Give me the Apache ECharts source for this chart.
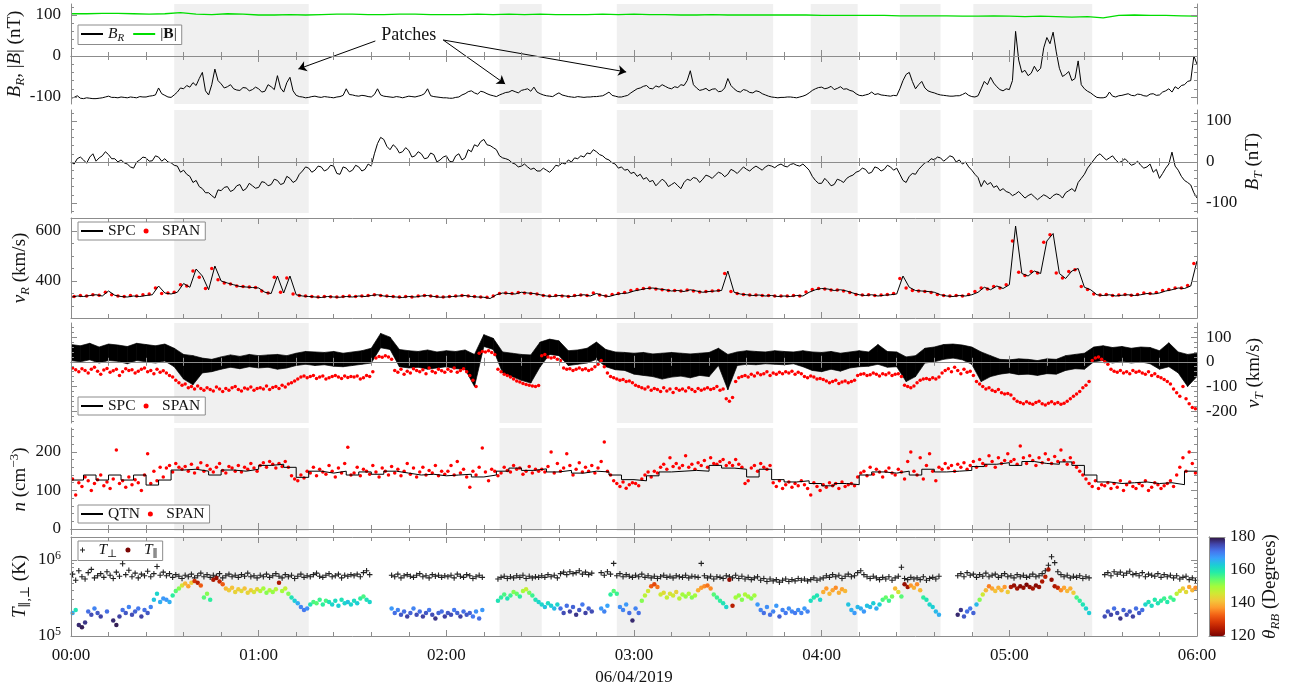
<!DOCTYPE html>
<html>
<head>
<meta charset="utf-8">
<script src="https://cdn.jsdelivr.net/npm/echarts@6/dist/echarts.min.js"></script>
<style>
  html, body { margin: 0; padding: 0; background: #fff; }
  #chart { width: 1290px; height: 691px; }
</style>
</head>
<body>
<div id="chart"></div>
<script>
// Solar-wind interval 06/04/2019, 00:00-06:00. Time is in minutes after 00:00.
const hourTicks = ['00:00', '01:00', '02:00', '03:00', '04:00', '05:00', '06:00'];
const dateLabel = '06/04/2019';
// shaded "patch" intervals [start, end] in minutes
const patches = [[33, 76], [137, 150.5], [174.5, 224.5], [236.5, 251.5], [265, 278], [288.5, 326.5]];

// B_R (nT), one value per minute from 00:00
const bRStep = 1;
const bR = [
  -103,-101,-97,-103,-104,-102,-103,-104,-104,-103,-102,-100,-98,-101,-101,-102,-100,-101,-102,-100,-101,-102,-99,-100,-100,-98,-97,-95,-78,-92,
  -96,-100,-101,-95,-88,-78,-80,-72,-76,-65,-72,-55,-40,-85,-95,-70,-32,-60,-68,-78,-75,-70,-80,-83,-84,-77,-78,-85,-82,-76,
  -80,-88,-86,-70,-75,-82,-48,-78,-88,-65,-52,-85,-96,-99,-100,-102,-101,-99,-98,-100,-101,-99,-100,-101,-102,-100,-99,-96,-80,-94,
  -95,-97,-98,-96,-97,-99,-100,-94,-80,-95,-98,-99,-100,-101,-99,-100,-102,-100,-98,-99,-100,-98,-96,-92,-80,-97,-99,-100,-101,-102,
  -102,-103,-103,-101,-100,-95,-92,-87,-85,-90,-93,-86,-88,-92,-95,-97,-99,-95,-92,-89,-88,-84,-87,-90,-84,-82,-80,-86,-76,-88,
  -92,-95,-97,-98,-99,-94,-90,-95,-97,-99,-100,-101,-99,-100,-101,-100,-100,-99,-99,-98,-97,-93,-88,-96,-98,-100,-100,-98,-96,-90,
  -85,-80,-78,-74,-72,-79,-80,-73,-76,-70,-74,-78,-80,-75,-77,-70,-72,-60,-36,-70,-78,-84,-82,-79,-85,-81,-80,-87,-86,-78,
  -55,-72,-80,-86,-88,-82,-84,-89,-90,-85,-87,-92,-95,-98,-100,-101,-102,-101,-101,-100,-100,-101,-102,-100,-98,-95,-90,-84,-80,-77,
  -76,-80,-78,-74,-82,-79,-75,-81,-80,-84,-86,-92,-96,-97,-95,-93,-88,-94,-92,-95,-96,-97,-98,-96,-97,-80,-60,-45,-40,-62,
  -80,-70,-62,-78,-85,-88,-90,-93,-95,-96,-97,-98,-98,-97,-97,-94,-90,-96,-99,-100,-97,-80,-62,-70,-52,-66,-75,-82,-85,-80,
  -82,-60,60,-10,-40,-35,-48,-42,-25,-38,-30,20,45,30,58,10,-30,-50,-45,-38,-60,-55,-12,-70,-80,-86,-90,-96,-101,-102,
  -102,-100,-88,-98,-100,-97,-96,-94,-92,-96,-97,-93,-94,-97,-98,-93,-92,-96,-95,-88,-85,-80,-88,-75,-80,-72,-70,-62,-60,0,
  -20
];
// |B| (nT), every 5 min
const bMagStep = 5;
const bMag = [
  103,103,104,104,103,102,103,106,102,101,103,102,100,100,101,100,101,102,102,101,
  101,102,102,101,101,101,102,101,102,101,102,101,101,101,102,101,102,101,101,100,
  100,101,100,100,100,100,100,100,99,99,99,99,99,98,98,98,98,97,97,98,
  97,96,97,96,95,96,93,99,100,99,99,98,97
];
// B_T (nT), one value per minute
const bTStep = 1;
const bT = [
  0,-5,8,12,5,-3,12,20,2,10,15,25,18,8,8,0,5,-2,-5,-12,-15,0,5,12,10,2,3,15,12,2,
  8,0,-2,-8,-10,-25,-20,-30,-35,-50,-45,-60,-65,-75,-75,-82,-88,-68,-70,-62,-60,-72,-68,-58,-55,-70,-65,-52,-58,-64,
  -62,-48,-50,-58,-55,-42,-45,-55,-52,-35,-40,-50,-45,-30,-22,-12,-15,-25,-20,-10,-12,-22,-18,-8,-10,-28,-30,-12,-15,-24,
  -20,-8,-12,-22,-18,-5,-10,20,45,60,55,38,30,42,35,22,25,35,28,12,15,25,20,8,10,22,18,0,5,12,
  15,2,0,15,20,5,10,30,25,42,38,50,55,42,40,35,30,15,10,8,5,-2,-5,-12,-10,-5,-12,-18,-15,-22,
  -22,-15,-20,-25,-18,-8,-10,-2,-5,5,0,10,8,15,12,22,20,30,25,18,15,8,5,-2,-5,-15,-12,-20,-18,-28,
  -25,-35,-30,-42,-38,-48,-45,-58,-50,-42,-48,-60,-55,-50,-58,-65,-50,-42,-45,-38,-40,-50,-42,-32,-35,-40,-32,-25,-28,-36,
  -30,-18,-22,-28,-20,-12,-18,-22,-15,-10,-15,-20,-12,-8,-10,-14,-8,-5,-10,-12,-6,-4,-8,-10,-5,-12,-20,-35,-45,-52,
  -52,-40,-48,-58,-55,-42,-45,-50,-40,-35,-32,-25,-22,-15,-18,-28,-25,-12,-15,-22,-18,-8,-12,-20,-15,-30,-45,-50,-35,-28,
  -30,-18,-10,-2,0,8,5,12,10,2,8,15,12,0,5,-5,0,-12,-20,-30,-38,-60,-45,-55,-50,-62,-58,-70,-65,-72,
  -75,-82,-78,-72,-80,-88,-82,-78,-85,-92,-86,-80,-84,-90,-82,-78,-80,-88,-75,-70,-65,-72,-50,-40,-30,-15,-5,5,15,20,
  12,5,10,15,5,-2,2,8,0,-8,-5,2,-8,-15,-12,-5,-25,-18,-40,-28,-15,-5,24,-10,-20,-35,-45,-50,-56,-75,
  -88
];
// v_R SPC (km/s), every 2 min
const vRStep = 2;
const vRspc = [
  335,340,338,342,345,340,360,343,338,336,340,338,342,345,380,
  352,348,355,390,375,448,420,365,460,400,392,385,378,376,374,
  372,355,350,420,352,420,345,340,338,336,334,338,336,335,338,
  336,340,338,342,345,340,338,336,334,338,336,340,342,338,335,
  336,338,340,342,338,336,335,330,345,352,350,348,355,352,350,
  345,340,338,342,340,338,342,345,340,350,342,338,345,350,352,
  360,365,370,372,368,365,360,362,358,365,360,355,358,360,362,
  440,355,348,345,342,344,340,342,338,340,338,342,340,355,365,
  370,368,362,365,360,352,345,342,345,340,343,345,348,420,375,
  362,360,358,355,345,340,338,342,340,345,355,375,365,380,370,
  385,620,430,420,440,430,560,590,430,410,440,450,375,365,345,
  342,345,340,343,345,342,345,350,348,352,360,365,372,370,380,
  480
];
// v_R SPAN (km/s), at odd minutes 1, 3, ... 359
const vRspan = [
  338,342,340,345,343,355,345,340,338,342,340,345,348,372,350,
  352,355,385,380,440,415,370,450,405,392,388,380,378,376,374,
  360,352,415,355,412,348,342,340,338,336,338,337,336,338,340,
  338,340,342,345,342,340,338,336,338,336,340,342,340,338,336,
  338,340,342,340,338,336,335,340,350,352,350,354,352,350,348,
  342,340,342,340,338,342,344,342,352,344,340,346,350,354,362,
  366,370,372,368,365,362,362,360,364,360,356,358,360,362,430,
  358,350,346,344,344,342,342,340,340,340,342,340,356,366,370,
  368,364,364,360,354,346,344,345,342,344,346,350,410,372,362,
  360,358,354,346,342,340,342,340,346,358,372,368,378,372,385,
  560,435,422,438,432,555,585,432,412,438,445,378,366,348,344,
  346,342,344,346,343,346,352,350,354,362,366,372,372,382,470
];
// v_T SPC (km/s): lower and upper envelope, every 3 min
const vTStep = 3;
const vTspcLow = [
  5,0,8,-5,5,2,-8,5,0,-5,
  3,-20,-70,-93,-45,-40,-30,-22,-28,-20,
  -25,-22,-30,-25,-15,-10,-15,-12,-18,-20,
  -15,-10,-5,57,50,-20,-25,-22,-30,-25,
  -20,-28,-30,-100,62,50,-45,-60,-75,-86,
  -20,30,25,-15,-10,-5,10,-20,-32,-35,
  -50,-55,-60,-70,-62,-58,-65,-55,-60,-15,
  -113,-15,-10,-12,-8,-10,-12,-8,-20,-35,
  -40,-30,-38,-25,-20,-18,-10,-22,-20,-80,
  -60,-5,0,10,15,8,-10,-80,-60,-50,
  -45,-52,-50,-55,-48,-50,-35,-28,-30,0,
  5,-5,2,-5,0,-8,-30,-20,-45,-100,
  -60
];
const vTspcHigh = [
  70,65,75,60,72,68,62,75,70,65,
  72,55,30,25,15,10,20,28,22,30,
  25,28,30,25,35,42,40,38,42,35,
  40,45,55,115,100,50,45,42,48,40,
  45,42,48,30,110,95,40,35,30,28,
  80,92,85,45,48,55,80,50,40,38,
  35,38,32,35,38,35,32,35,38,55,
  30,40,45,42,40,45,42,40,45,40,
  38,42,35,40,45,40,70,42,40,20,
  25,55,60,70,72,68,60,40,25,10,
  8,12,10,5,12,10,25,30,35,60,
  65,58,62,55,60,58,45,77,40,30,
  35
];
// v_T SPAN (km/s), one per minute (centred on the half minute)
const vTspan = [
  -25,-32,-40,-28,-35,-45,-30,-22,-38,-50,-33,-27,-42,-36,-30,-55,-40,-28,-35,-32,-45,-38,-30,-25,-40,-35,-48,-30,-42,-36,
  -45,-55,-62,-75,-85,-95,-90,-105,-100,-110,-98,-108,-115,-105,-112,-118,-102,-110,-120,-108,-115,-105,-100,-112,-118,-106,-110,-102,-115,-108,
  -105,-110,-98,-112,-104,-100,-108,-95,-102,-90,-85,-78,-70,-62,-58,-65,-60,-55,-68,-62,-58,-70,-65,-60,-55,-62,-68,-58,-64,-60,
  -62,-58,-70,-65,-55,-60,-40,15,22,18,25,20,10,-35,-42,-30,-50,-38,-45,-28,-35,-40,-32,-48,-25,-38,-44,-30,-36,-42,
  -30,-38,-25,-42,-35,-28,-40,-55,-75,-100,35,42,40,45,38,30,-30,-40,-50,-55,-62,-70,-78,-82,-88,-92,-95,-98,-100,-96,
  25,30,20,15,18,10,5,-25,-30,-28,-35,-30,-25,-32,-28,-35,-30,-20,-10,5,-20,-45,-60,-65,-70,-75,-72,-80,-78,-85,
  -95,-100,-105,-110,-102,-115,-108,-112,-120,-105,-118,-110,-124,-108,-115,-110,-118,-105,-112,-120,-108,-115,-110,-105,-112,-108,-100,-115,-110,-150,
  -160,-145,-80,-65,-60,-55,-62,-50,-58,-45,-52,-48,-40,-55,-45,-50,-42,-48,-40,-45,-38,-50,-42,-48,-60,-65,-58,-62,-70,-68,
  -72,-78,-85,-80,-75,-88,-82,-78,-85,-80,-75,-55,-50,-48,-55,-52,-45,-50,-58,-48,-52,-45,-55,-50,-48,-60,-95,-100,-105,-98,
  -85,-75,-70,-68,-72,-65,-70,-62,-45,-35,-28,-40,-22,-35,-48,-30,-42,-38,-55,-80,-90,-100,-110,-105,-115,-120,-112,-125,-130,-128,
  -135,-150,-160,-165,-170,-162,-168,-172,-165,-160,-170,-175,-168,-162,-170,-165,-172,-168,-160,-150,-140,-130,-120,-105,-95,-80,5,15,20,10,
  0,-10,-30,-38,-42,-35,-45,-40,-48,-35,-42,-38,-45,-50,-40,-55,-48,-60,-65,-72,-80,-90,-110,-125,-140,-100,-150,-170,-185,-190
];
// n QTN (cm^-3), held values every 4 min
const nStep = 4;
const nQtn = [
  127,140,127,140,127,140,114,127,153,155,150,140,153,150,155,165,168,160,134,150,
  145,150,140,148,142,150,145,140,142,138,140,142,135,140,150,158,152,156,148,152,
  145,150,148,140,128,125,138,148,150,152,150,165,158,155,135,155,128,122,125,118,
  112,118,115,140,148,145,150,140,155,148,150,152,162,168,172,165,175,170,168,174,
  165,140,122,118,120,122,118,120,115,150,150
];
// n SPAN (cm^-3), one per minute
const nSpan = [
  130,88,120,110,135,125,100,118,128,140,112,122,105,130,205,118,125,108,135,115,128,120,100,140,195,118,150,125,160,135,
  158,165,148,170,160,155,162,150,168,145,158,172,150,165,155,148,160,170,152,145,162,158,150,165,148,160,155,170,158,150,
  165,172,160,175,168,158,170,162,175,160,138,130,125,140,132,150,145,160,138,155,148,142,165,150,135,158,145,170,212,140,
  145,160,138,155,150,142,165,148,135,158,150,140,162,145,155,138,150,170,142,158,135,148,160,140,152,145,165,138,150,142,
  150,165,140,175,145,155,135,108,150,140,160,210,148,125,155,150,138,145,160,152,148,165,155,158,142,150,162,145,155,150,
  155,148,162,200,145,170,150,158,195,165,140,155,172,148,160,150,165,145,158,175,226,150,140,125,118,110,122,106,115,120,
  118,112,130,140,148,135,150,145,160,168,155,185,162,170,158,165,190,160,168,155,172,165,178,160,185,170,168,175,180,165,
  172,165,180,168,160,118,125,158,165,150,170,160,155,165,120,110,125,105,115,122,108,118,112,125,115,105,88,120,110,100,
  115,108,120,112,118,105,122,110,115,118,112,135,145,150,138,160,142,155,148,135,150,158,145,140,155,148,130,175,200,150,
  140,185,130,165,195,150,125,160,155,170,158,165,150,168,160,172,155,165,175,160,180,170,165,190,175,160,185,170,178,195,
  175,180,168,215,185,170,190,178,165,185,172,195,180,170,188,175,205,178,168,185,172,160,150,140,130,118,110,125,105,115,
  112,120,105,118,108,125,100,115,122,110,105,118,112,125,100,108,120,115,105,112,118,125,110,140,160,185,150,200,170,145
];
// T_perp and T_par (units of 1e5 K) and theta_RB (degrees), one per minute; null = no data
const tPerp = [
  6.5,5.4,7.2,6.0,5.6,6.8,7.5,5.8,6.2,6.6,5.9,7.0,6.3,5.7,6.9,6.1,8.9,6.4,7.3,6.0,6.7,5.8,6.5,6.2,7.1,6.0,6.6,8.2,6.3,6.9,
  6.2,6.6,5.9,6.4,6.1,5.7,6.3,6.0,6.5,5.8,6.2,6.7,6.0,6.4,5.9,6.3,6.1,6.6,5.8,6.2,6.5,6.0,6.3,5.9,6.4,6.1,6.7,6.0,6.2,5.8,
  6.3,6.0,6.5,5.9,6.2,6.6,6.1,5.8,6.4,6.0,6.3,5.7,6.1,6.5,5.9,6.2,6.0,6.4,6.7,6.1,5.9,6.3,6.6,6.0,6.2,6.5,5.8,6.3,6.1,6.4,
  6.2,6.5,6.0,6.8,7.2,6.4,null,null,null,null,null,null,6.3,6.0,6.5,5.8,6.2,6.4,6.1,5.9,6.3,6.6,6.0,6.2,5.8,6.4,6.1,6.3,5.9,6.2,
  6.0,6.3,5.8,6.5,6.1,5.9,6.4,6.2,5.7,6.0,6.3,5.9,null,null,null,null,5.6,5.9,6.1,5.7,6.0,5.8,6.2,5.9,6.3,5.7,6.1,5.8,6.0,5.9,
  6.2,5.9,6.4,6.0,6.3,5.8,6.6,6.9,6.4,7.0,6.6,6.8,7.2,6.5,6.9,6.4,6.7,null,null,6.8,6.3,7.0,6.5,9.0,6.2,6.6,6.0,6.4,6.1,5.9,
  6.3,6.0,6.5,5.9,6.2,5.8,6.1,5.7,6.0,6.3,5.9,6.1,5.8,6.2,6.0,5.9,6.3,5.8,6.1,6.0,5.9,9.0,6.2,5.8,6.1,5.6,6.0,5.9,5.7,6.2,
  6.0,5.8,6.3,5.7,6.1,5.6,5.9,5.5,5.8,6.0,5.4,5.7,5.2,5.6,5.3,5.5,5.1,5.4,5.6,5.2,5.5,5.3,5.7,5.4,5.6,5.3,5.5,5.8,5.4,5.6,
  5.8,6.2,5.9,6.4,6.0,6.3,5.7,6.1,6.5,6.0,6.2,6.8,7.2,6.4,6.0,5.7,6.1,5.8,5.5,5.9,5.6,6.0,5.4,5.8,6.1,8.0,5.7,5.5,5.9,5.6,
  5.8,5.5,6.0,5.4,5.7,5.9,5.6,6.1,null,null,null,null,null,6.2,6.6,6.0,6.8,6.3,6.5,5.9,6.4,6.1,6.7,6.0,6.3,6.5,5.9,6.2,6.6,6.0,
  6.2,5.8,6.4,6.0,6.3,5.9,6.1,6.5,6.0,6.2,6.6,7.2,8.5,11.0,9.2,7.0,6.4,6.0,6.3,5.8,6.1,5.9,6.2,5.7,6.0,5.8,null,null,null,null,
  6.4,6.8,6.2,7.0,6.5,6.9,6.3,6.7,7.1,6.4,6.6,6.2,6.8,6.0,6.5,6.3,6.1,6.6,5.9,6.4,6.0,6.3,5.8,6.2,5.6,5.9,6.1,5.5,5.8,5.4
];
const tPar = [
  2.0,2.2,1.4,1.3,1.5,2.1,1.9,2.3,2.0,1.8,null,2.1,null,1.6,1.4,1.8,2.2,2.0,2.4,1.9,2.1,2.3,1.8,2.2,2.0,2.4,3.0,3.6,2.8,3.1,
  3.0,2.8,3.4,3.9,4.2,4.6,4.9,4.5,5.0,5.3,5.0,4.6,3.2,3.6,3.0,5.5,5.8,5.2,4.8,4.2,4.0,4.3,3.8,4.1,3.9,4.2,3.7,4.0,3.8,4.1,
  3.9,4.2,3.7,4.0,3.8,4.1,5.0,3.9,4.2,3.6,3.2,2.9,2.7,2.4,2.2,2.3,2.6,2.8,2.7,3.0,2.6,2.9,2.8,2.6,2.9,2.5,3.0,2.7,2.8,2.6,
  2.9,2.7,3.1,3.3,3.0,2.8,null,null,null,null,null,null,2.3,2.0,2.2,1.9,2.1,1.8,2.0,2.3,1.9,2.1,1.8,2.0,2.2,1.9,1.7,2.0,2.1,1.8,
  2.0,1.9,2.2,2.0,1.8,2.1,1.9,2.0,1.8,2.1,1.7,2.2,null,null,null,null,2.9,3.2,3.5,3.1,3.4,3.8,3.6,3.3,3.9,4.1,3.7,3.4,3.0,2.8,
  2.6,2.4,2.7,2.5,2.3,2.6,2.3,2.0,2.5,2.1,2.4,1.9,2.2,2.6,2.0,2.3,2.1,null,null,2.3,2.1,2.5,3.5,3.9,3.6,2.4,2.2,2.6,2.0,1.6,
  2.3,2.0,2.9,3.4,3.9,4.5,4.8,4.4,3.5,3.7,3.2,3.6,3.4,3.8,3.1,3.5,3.3,3.6,3.2,3.4,4.0,4.3,4.5,4.6,4.2,3.5,3.2,2.9,2.7,2.4,
  5.5,2.5,3.2,3.4,3.0,3.5,3.3,3.1,3.4,2.6,2.2,2.0,2.4,1.9,2.1,2.5,1.8,2.2,2.0,2.3,2.1,2.0,2.2,2.0,2.3,2.1,2.9,3.2,3.4,3.0,
  3.8,4.2,3.6,4.0,4.3,3.7,4.1,3.9,2.6,2.2,2.0,2.4,2.3,2.1,2.5,2.4,2.7,2.3,2.6,3.0,3.2,2.9,3.3,4.2,3.8,3.3,4.8,4.4,4.6,4.3,
  4.8,4.0,3.2,3.0,2.6,2.4,2.1,1.9,null,null,null,null,null,1.9,2.2,1.8,2.1,2.3,2.0,2.6,3.0,3.5,4.0,4.5,4.2,3.9,4.3,4.0,4.4,3.8,
  4.4,4.6,4.2,4.5,4.3,4.7,4.4,4.2,4.6,4.4,5.2,6.0,7.5,5.5,4.5,4.3,4.0,4.3,3.9,4.2,3.7,3.2,2.9,2.6,2.3,2.0,null,null,null,null,
  1.8,2.1,1.9,2.3,2.0,1.7,2.2,1.9,2.1,1.8,2.3,2.0,2.2,2.6,2.8,2.5,3.0,2.7,2.9,3.1,2.8,3.2,3.0,3.6,3.9,4.2,3.8,4.4,4.0,4.3
];
const thetaRB = [
  166,160,178,179,177,172,175,170,174,176,null,172,null,178,179,176,172,174,170,175,173,171,176,172,174,170,164,162,166,168,
  168,166,158,155,152,145,140,138,142,128,125,132,155,152,158,124,122,126,132,140,142,141,143,142,144,141,143,142,145,143,
  148,150,152,149,151,148,124,150,147,152,160,163,166,170,171,169,160,156,155,157,158,156,160,162,161,163,160,162,164,162,
  161,163,158,156,160,162,null,null,null,null,null,null,168,172,170,174,172,176,173,170,175,172,176,174,171,175,177,173,172,176,
  174,175,171,173,176,172,174,173,171,169,172,168,null,null,null,null,160,158,156,160,157,152,154,158,150,147,153,157,160,162,
  162,164,161,163,165,162,172,175,172,176,173,177,174,171,176,173,175,null,null,168,170,167,158,155,157,169,170,168,172,178,
  170,172,152,148,146,132,130,134,146,144,147,145,146,143,148,150,151,149,152,150,139,137,136,134,136,155,157,158,160,162,
  122,125,150,151,152,149,150,152,150,168,170,172,169,172,170,168,173,170,171,169,170,171,169,170,168,170,161,159,160,162,
  139,137,140,138,136,139,138,140,164,166,168,165,166,168,164,165,163,166,163,156,154,157,153,140,145,155,122,123,137,139,
  136,140,158,160,162,163,165,166,null,null,null,null,null,178,177,174,172,171,173,165,152,146,140,135,138,141,139,140,137,142,
  124,122,123,121,122,120,122,123,121,122,124,125,123,122,124,126,136,138,140,139,142,156,158,160,162,163,null,null,null,null,
  175,174,176,172,175,177,173,175,174,176,172,174,172,162,160,161,159,160,158,157,159,156,157,148,145,142,144,138,140,136
];
const thetaRange = [120, 180];
const thetaTicks = [120, 140, 160, 180];

// "Patches" annotation: text anchor and arrows, in (minutes, nT)
const patchLabelAt = [108, 51];
const patchArrows = [
  [[97.3, 36.6], [72.7, -31.7]],
  [[119.0, 39], [138.8, -68.3]],
  [[119.0, 39], [177.5, -39]]
];

// ---------- styling ----------
const FONT = '"Liberation Serif", "DejaVu Serif", serif';
const AX = '#8c8c8c';
const TXT = '#141414';
const SHADE = '#f0f0f0';
const turbo = ['#7a0402', '#b11901', '#d93806', '#f36315', '#fe9b2d', '#f3c63a', '#d1e834',
  '#a4fc3b', '#61fc6c', '#24eca6', '#1bcfd4', '#39a2fc', '#4675ed', '#4145ab', '#30123b'];

function rich(size) {
  const lh = Math.round(size * 1.25);
  const s = Math.round(size * 0.7);
  const base = { fontFamily: FONT, fontSize: size, color: TXT, lineHeight: lh };
  const small = { fontFamily: FONT, fontSize: s, color: TXT, lineHeight: s };
  return {
    n: base,
    i: Object.assign({}, base, { fontStyle: 'italic' }),
    b: Object.assign({}, base, { fontWeight: 'bold' }),
    s: Object.assign({}, small, { verticalAlign: 'bottom' }),
    si: Object.assign({}, small, { verticalAlign: 'bottom', fontStyle: 'italic' }),
    p: Object.assign({}, small, { verticalAlign: 'top' })
  };
}

// panel frames: pixel top/bottom and the value range that fits them
const layout = [
  { top: 4,   bottom: 104, min: -117.1, max: 126.8, major: [-100, 0, 100], minorStep: 20, side: 'left',  gap: 44,
    name: '{i|B}{si|R}{n|, |}{i|B}{n|| (nT)}' },
  { top: 110, bottom: 213, min: -124.4, max: 126.8, major: [-100, 0, 100], minorStep: 20, side: 'right', gap: 44,
    name: '{i|B}{si|T}{n| (nT)}' },
  { top: 218, bottom: 318, min: 252, max: 652, major: [400, 600], minorStep: 50, side: 'left', gap: 39,
    name: '{i|v}{si|R}{n| (km/s)}' },
  { top: 323, bottom: 423, min: -248, max: 157.3, major: [-200, -100, 0, 100], minorStep: 20, side: 'right', gap: 45,
    name: '{i|v}{si|T}{n| (km/s)}' },
  { top: 428, bottom: 531, min: -5.2, max: 262, major: [0, 100, 200], minorStep: 20, side: 'left', gap: 39,
    name: '{i|n}{n| (cm}{p|−3}{n|)}' },
  { top: 537, bottom: 636, log: true, min: 1e5, max: 2e6, major: [1e5, 1e6],
    minorVals: [2e5, 3e5, 4e5, 5e5, 6e5, 7e5, 8e5, 9e5, 2e6], side: 'left', gap: 39,
    name: '{i|T}{s|∥,⊥}{n| (K)}' }
];

function stepValues(min, max, step) {
  const out = [];
  for (let v = Math.ceil(min / step) * step; v <= max + 1e-9; v += step) out.push(Math.round(v * 1000) / 1000);
  return out;
}

const grids = layout.map(p => ({ left: 71, right: 93, top: p.top, height: p.bottom - p.top, outerBoundsMode: 'none' }));
grids.push({ left: 1209, top: 537, width: 16, height: 99, outerBoundsMode: 'none' });

const lineStyleAx = { color: AX, width: 1 };
const xAxes = [];
const yAxes = [];
layout.forEach((p, g) => {
  ['bottom', 'top'].forEach(pos => {
    const labelled = (g === layout.length - 1 && pos === 'bottom');
    const ax = {
      gridIndex: g, type: 'value', position: pos, min: 0, max: 360, interval: 60, z: 5,
      axisLine: { show: true, lineStyle: lineStyleAx },
      axisTick: { show: true, inside: true, length: 6, lineStyle: lineStyleAx },
      minorTick: { show: true, splitNumber: 5, length: 4, lineStyle: lineStyleAx },
      splitLine: { show: false }, minorSplitLine: { show: false },
      axisLabel: { show: labelled, margin: 11, fontFamily: FONT, fontSize: 17, color: TXT,
        formatter: v => hourTicks[Math.round(v / 60)] }
    };
    if (labelled) {
      Object.assign(ax, { name: dateLabel, nameLocation: 'middle', nameGap: 33, nameMoveOverlap: false,
        nameTextStyle: { fontFamily: FONT, fontSize: 17, color: TXT } });
    }
    xAxes.push(ax);
  });
  const minorVals = p.log ? p.minorVals : stepValues(p.min, p.max, p.minorStep).filter(v => !p.major.includes(v));
  ['left', 'right'].forEach(pos => {
    const labelled = p.side === pos;
    const base = { gridIndex: g, type: p.log ? 'log' : 'value', position: pos, min: p.min, max: p.max, z: 5,
      splitLine: { show: false } };
    if (p.log) base.logBase = 10;
    const label = { show: labelled, customValues: p.major, margin: pos === 'left' ? 10 : 9,
      fontFamily: FONT, fontSize: 17, color: TXT };
    if (p.log) {
      label.formatter = v => '{n|10}{p|' + Math.round(Math.log10(v)) + '}';
      label.rich = rich(17);
    }
    const major = Object.assign({}, base, {
      axisLine: { show: true, lineStyle: lineStyleAx },
      axisTick: { show: true, inside: true, length: 6, customValues: p.major, lineStyle: lineStyleAx },
      axisLabel: label
    });
    if (labelled) {
      Object.assign(major, { name: p.name, nameLocation: 'middle', nameRotate: 90, nameGap: p.gap, nameMoveOverlap: false,
        nameTextStyle: { fontFamily: FONT, fontSize: 19, color: TXT, rich: rich(19) } });
    }
    yAxes.push(major);
    yAxes.push(Object.assign({}, base, {
      axisLine: { show: false },
      axisTick: { show: true, inside: true, length: 3, customValues: minorVals, lineStyle: lineStyleAx },
      axisLabel: { show: false }
    }));
  });
});
// colour-bar frame and its scale
const cg = layout.length;
['bottom', 'top'].forEach(pos => xAxes.push({ gridIndex: cg, type: 'value', position: pos, min: 0, max: 1, z: 10,
  axisLine: { show: true, lineStyle: lineStyleAx }, axisTick: { show: false }, axisLabel: { show: false }, splitLine: { show: false } }));
yAxes.push({ gridIndex: cg, type: 'value', position: 'left', min: thetaRange[0], max: thetaRange[1], z: 10,
  axisLine: { show: true, lineStyle: lineStyleAx }, axisTick: { show: false }, axisLabel: { show: false }, splitLine: { show: false } });
yAxes.push({ gridIndex: cg, type: 'value', position: 'right', min: thetaRange[0], max: thetaRange[1], z: 10,
  axisLine: { show: true, lineStyle: lineStyleAx }, axisTick: { show: false }, splitLine: { show: false },
  axisLabel: { show: true, customValues: thetaTicks, margin: 5, fontFamily: FONT, fontSize: 17, color: TXT },
  name: '{i|θ}{si|RB}{n| (Degrees)}', nameLocation: 'middle', nameRotate: 90, nameGap: 33, nameMoveOverlap: false,
  nameTextStyle: { fontFamily: FONT, fontSize: 19, color: TXT, rich: rich(19) } });

// ---------- series ----------
const at = (arr, step, off) => arr.map((v, i) => [i * step + (off || 0), v]);
const pts = (arr, step, off, scale) => {
  const out = [];
  arr.forEach((v, i) => { if (v != null) out.push([i * step + off, v * (scale || 1)]); });
  return out;
};
const shade = { silent: true, itemStyle: { color: SHADE }, data: patches.map(p => [{ xAxis: p[0] }, { xAxis: p[1] }]) };
const zeroLine = { silent: true, symbol: 'none', z: 1.5, label: { show: false },
  lineStyle: { color: AX, width: 1, type: 'solid' }, emphasis: { disabled: true }, data: [{ yAxis: 0 }] };
const ax = g => ({ xAxisIndex: 2 * g, yAxisIndex: 4 * g });
const lineBase = { type: 'line', symbol: 'none', showSymbol: false, animation: false, silent: true };
const dotBase = { type: 'scatter', animation: false, silent: true, symbol: 'circle' };
const plusPath = 'path://M4,0H6V4H10V6H6V10H4V6H0V4H4Z';
const red = { color: '#ff0000', opacity: 1 };

const tParData = [];
tPar.forEach((v, i) => { if (v != null) tParData.push([i + 0.5, v * 1e5, thetaRB[i]]); });

// v_T SPC drawn as the filled band between its lower and upper envelope
function renderBand(params, api) {
  const i = params.dataIndex;
  if (i >= vTspcLow.length - 1) return null;
  const t0 = api.value(0), t1 = t0 + vTStep;
  const p = [api.coord([t0, api.value(1)]), api.coord([t0, api.value(2)]),
    api.coord([t1, vTspcHigh[i + 1]]), api.coord([t1, vTspcLow[i + 1]])];
  return { type: 'polygon', shape: { points: p }, style: { fill: '#000', stroke: '#000', lineWidth: 0.7 } };
}

const series = [
  Object.assign({}, lineBase, ax(0), { name: '|B|', data: at(bMag, bMagStep),
    lineStyle: { color: '#00dd00', width: 1.3 }, itemStyle: { color: '#00dd00' }, markArea: shade, markLine: zeroLine }),
  Object.assign({}, lineBase, ax(0), { name: 'B_R', data: at(bR, bRStep),
    lineStyle: { color: '#000', width: 1 }, itemStyle: { color: '#000' },
    markLine: { silent: true, symbol: ['none', 'arrow'], symbolSize: 8, label: { show: false }, animation: false,
      lineStyle: { color: '#000', width: 1, type: 'solid' }, emphasis: { disabled: true },
      data: patchArrows.map(a => [{ coord: a[0] }, { coord: a[1] }]) },
    markPoint: { silent: true, symbol: 'circle', symbolSize: 1, itemStyle: { color: 'rgba(0,0,0,0)' }, animation: false,
      label: { show: true, position: 'inside', formatter: 'Patches', fontFamily: FONT, fontSize: 18, color: TXT },
      data: [{ coord: patchLabelAt }] } }),
  Object.assign({}, lineBase, ax(1), { name: 'B_T', data: at(bT, bTStep),
    lineStyle: { color: '#000', width: 1 }, markArea: shade, markLine: zeroLine }),
  Object.assign({}, lineBase, ax(2), { name: 'SPC', data: at(vRspc, vRStep),
    lineStyle: { color: '#000', width: 1 }, itemStyle: { color: '#000' }, markArea: shade }),
  Object.assign({}, dotBase, ax(2), { name: 'SPAN', data: at(vRspan, 2, 1), symbolSize: 3.5, itemStyle: red }),
  Object.assign({ type: 'custom', animation: false, silent: true }, ax(3), { name: 'SPC band',
    data: vTspcLow.map((v, i) => [i * vTStep, v, vTspcHigh[i]]), encode: { x: 0, y: [1, 2] },
    renderItem: renderBand, clip: true, markArea: shade, markLine: zeroLine }),
  Object.assign({}, dotBase, ax(3), { name: 'SPAN', data: at(vTspan, 1, 0.5), symbolSize: 3.5, itemStyle: red }),
  Object.assign({}, lineBase, ax(4), { name: 'QTN', data: at(nQtn, nStep), step: 'end',
    lineStyle: { color: '#000', width: 1 }, itemStyle: { color: '#000' }, markArea: shade }),
  Object.assign({}, dotBase, ax(4), { name: 'SPAN', data: at(nSpan, 1, 0.5), symbolSize: 3.5, itemStyle: red }),
  Object.assign({}, dotBase, ax(5), { name: 'T_perp', data: pts(tPerp, 1, 0.5, 1e5), symbol: plusPath, symbolSize: 5.5,
    itemStyle: { color: '#222', opacity: 1 }, markArea: shade }),
  Object.assign({}, dotBase, ax(5), { name: 'T_par', data: tParData, symbolSize: 4.5, itemStyle: { color: '#7a0402', opacity: 1 } })
];

const legendLabels = {
  'B_R': '{i|B}{si|R}', '|B|': '{n||}{b|B}{n||}', 'SPC': '{n|SPC}', 'SPAN': '{n|SPAN}',
  'QTN': '{n|QTN}', 'T_perp': '{i|T}{s|⊥}', 'T_par': '{i|T}{s|∥}'
};
// line entries show only the line sample (no centre marker)
const lineEntry = name => ({ name, itemStyle: { opacity: 0 } });
const legendBase = {
  orient: 'horizontal', itemWidth: 22, itemHeight: 5, itemGap: 8, padding: [1, 5, 1, 2],
  borderColor: AX, borderWidth: 1, backgroundColor: '#fff', selectedMode: false, z: 10,
  formatter: n => legendLabels[n],
  textStyle: { fontFamily: FONT, fontSize: 15.5, color: TXT, rich: rich(15.5) }
};
const legends = [
  { data: [lineEntry('B_R'), lineEntry('|B|')], left: 78, top: 25 },
  { data: [lineEntry('SPC'), 'SPAN'], left: 78, top: 222 },
  { data: [lineEntry('SPC'), 'SPAN'], left: 78, top: 397 },
  { data: [lineEntry('QTN'), 'SPAN'], left: 78, top: 505 },
  { data: [{ name: 'T_perp' }, { name: 'T_par', itemStyle: { color: '#7a0402' } }], left: 78, top: 541 }
].map(l => Object.assign({}, legendBase, l));

const chart = echarts.init(document.getElementById('chart'));
chart.setOption({
  backgroundColor: '#fff',
  animation: false,
  grid: grids,
  xAxis: xAxes,
  yAxis: yAxes,
  legend: legends,
  visualMap: {
    type: 'continuous', min: thetaRange[0], max: thetaRange[1], dimension: 2, seriesIndex: [series.length - 1],
    inRange: { color: turbo }, left: 1209, top: 537, itemWidth: 16, itemHeight: 99, padding: 0,
    calculable: false, text: null, showLabel: false, hoverLink: false, orient: 'vertical', z: 4
  },
  series: series
});
</script>
</body>
</html>
